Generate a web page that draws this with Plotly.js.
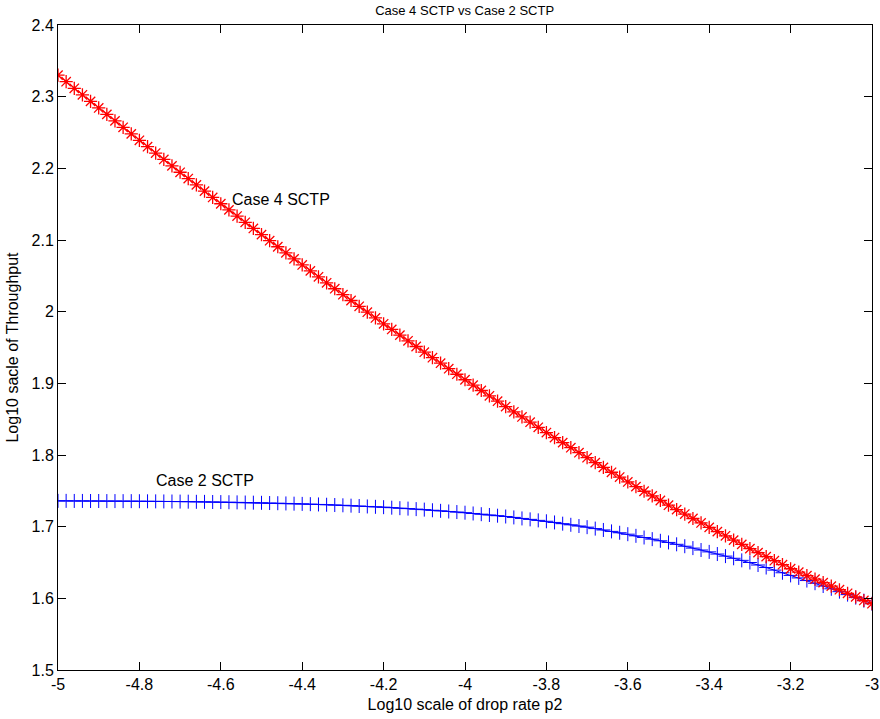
<!DOCTYPE html>
<html>
<head>
<meta charset="utf-8">
<script src="https://cdn.plot.ly/plotly-3.0.1.min.js"></script>
<style>html,body{margin:0;padding:0;background:#fff;}#chart{width:880px;height:719px;}</style>
</head>
<body>
<div id="chart"></div>
<script>
const xValues = [
-5.00,-4.98,-4.96,-4.94,-4.92,-4.90,-4.88,-4.86,-4.84,-4.82,
-4.80,-4.78,-4.76,-4.74,-4.72,-4.70,-4.68,-4.66,-4.64,-4.62,
-4.60,-4.58,-4.56,-4.54,-4.52,-4.50,-4.48,-4.46,-4.44,-4.42,
-4.40,-4.38,-4.36,-4.34,-4.32,-4.30,-4.28,-4.26,-4.24,-4.22,
-4.20,-4.18,-4.16,-4.14,-4.12,-4.10,-4.08,-4.06,-4.04,-4.02,
-4.00,-3.98,-3.96,-3.94,-3.92,-3.90,-3.88,-3.86,-3.84,-3.82,
-3.80,-3.78,-3.76,-3.74,-3.72,-3.70,-3.68,-3.66,-3.64,-3.62,
-3.60,-3.58,-3.56,-3.54,-3.52,-3.50,-3.48,-3.46,-3.44,-3.42,
-3.40,-3.38,-3.36,-3.34,-3.32,-3.30,-3.28,-3.26,-3.24,-3.22,
-3.20,-3.18,-3.16,-3.14,-3.12,-3.10,-3.08,-3.06,-3.04,-3.02,
-3.00];

const case4 = [
2.3300,2.3209,2.3117,2.3026,2.2934,2.2843,2.2753,2.2662,2.2572,2.2481,
2.2391,2.2302,2.2213,2.2124,2.2034,2.1945,2.1857,2.1769,2.1682,2.1594,
2.1506,2.1420,2.1334,2.1247,2.1161,2.1075,2.0990,2.0906,2.0821,2.0737,
2.0652,2.0569,2.0486,2.0403,2.0320,2.0237,2.0156,2.0075,1.9993,1.9912,
1.9831,1.9752,1.9673,1.9593,1.9514,1.9435,1.9358,1.9281,1.9204,1.9127,
1.9050,1.8975,1.8900,1.8826,1.8751,1.8676,1.8603,1.8531,1.8458,1.8386,
1.8313,1.8243,1.8173,1.8102,1.8032,1.7962,1.7894,1.7827,1.7759,1.7692,
1.7624,1.7559,1.7494,1.7430,1.7365,1.7300,1.7238,1.7176,1.7114,1.7052,
1.6990,1.6931,1.6872,1.6812,1.6753,1.6694,1.6638,1.6582,1.6525,1.6469,
1.6413,1.6365,1.6316,1.6268,1.6219,1.6170,1.6120,1.6070,1.6020,1.5970,
1.5925];

const case2 = [
1.7360,1.7360,1.7359,1.7359,1.7358,1.7358,1.7357,1.7357,1.7356,1.7356,
1.7355,1.7354,1.7353,1.7352,1.7351,1.7350,1.7349,1.7347,1.7346,1.7344,
1.7343,1.7341,1.7339,1.7337,1.7335,1.7333,1.7330,1.7327,1.7324,1.7321,
1.7318,1.7314,1.7310,1.7306,1.7302,1.7298,1.7293,1.7288,1.7282,1.7277,
1.7272,1.7265,1.7258,1.7252,1.7245,1.7238,1.7229,1.7221,1.7212,1.7204,
1.7195,1.7184,1.7174,1.7163,1.7153,1.7142,1.7129,1.7115,1.7102,1.7088,
1.7075,1.7059,1.7042,1.7026,1.7009,1.6993,1.6973,1.6954,1.6934,1.6915,
1.6895,1.6872,1.6849,1.6826,1.6803,1.6780,1.6754,1.6727,1.6701,1.6674,
1.6648,1.6618,1.6589,1.6559,1.6530,1.6500,1.6465,1.6430,1.6394,1.6357,
1.6320,1.6285,1.6248,1.6211,1.6172,1.6133,1.6093,1.6052,1.6010,1.5968,
1.5925];

const xTickVals = [-5,-4.8,-4.6,-4.4,-4.2,-4,-3.8,-3.6,-3.4,-3.2,-3];
const xTickText = ["-5","-4.8","-4.6","-4.4","-4.2","-4","-3.8","-3.6","-3.4","-3.2","-3"];
const yTickVals = [1.5,1.6,1.7,1.8,1.9,2,2.1,2.2,2.3,2.4];
const yTickText = ["1.5","1.6","1.7","1.8","1.9","2","2.1","2.2","2.3","2.4"];

const labelCase4 = {text: "Case 4 SCTP", x: -4.578, y: 2.156};
const labelCase2 = {text: "Case 2 SCTP", x: -4.765, y: 1.765};

const FONT = "Liberation Sans, Arial, Helvetica, sans-serif";

const traces = [
  {
    x: xValues, y: case2, type: "scatter", mode: "lines+markers",
    line: {color: "#0000ff", width: 1},
    marker: {symbol: "cross-thin-open", size: 10, color: "#0000ff", line: {color: "#0000ff", width: 1}},
    showlegend: false, hoverinfo: "skip"
  },
  {
    x: xValues, y: case4, type: "scatter", mode: "lines+markers",
    line: {color: "#ff0000", width: 1},
    marker: {symbol: "asterisk-open", size: 11, color: "#ff0000", line: {color: "#ff0000", width: 1.3}},
    showlegend: false, hoverinfo: "skip"
  }
];

const axisCommon = {
  showgrid: false, zeroline: false, showline: true, mirror: "ticks",
  linecolor: "#000", linewidth: 1, ticks: "inside", ticklen: 8,
  tickcolor: "#000", tickwidth: 1,
  tickfont: {family: FONT, size: 16, color: "#000"}
};

const layout = {
  width: 880, height: 719,
  margin: {l: 58, r: 8, t: 25, b: 49},
  paper_bgcolor: "#fff", plot_bgcolor: "#fff",
  font: {family: FONT, color: "#000"},
  title: {text: "Case 4 SCTP vs Case 2 SCTP", font: {family: FONT, size: 13, color: "#000"},
          x: 0.528, xanchor: "center", y: 0.992, yanchor: "top"},
  xaxis: Object.assign({}, axisCommon, {
    range: [-5, -3], tickmode: "array", tickvals: xTickVals, ticktext: xTickText,
    title: {text: "Log10 scale of drop rate p2", font: {family: FONT, size: 16, color: "#000"}, standoff: 6}
  }),
  yaxis: Object.assign({}, axisCommon, {
    range: [1.5, 2.4], tickmode: "array", tickvals: yTickVals, ticktext: yTickText,
    title: {text: "Log10 sacle of Throughput", font: {family: FONT, size: 16, color: "#000"}, standoff: 8}
  }),
  annotations: [labelCase4, labelCase2].map(a => ({
    x: a.x, y: a.y, xref: "x", yref: "y", text: a.text, showarrow: false,
    xanchor: "left", yanchor: "middle", font: {family: FONT, size: 16, color: "#000"}
  }))
};

Plotly.newPlot("chart", traces, layout, {staticPlot: true, displayModeBar: false});
</script>
</body>
</html>
